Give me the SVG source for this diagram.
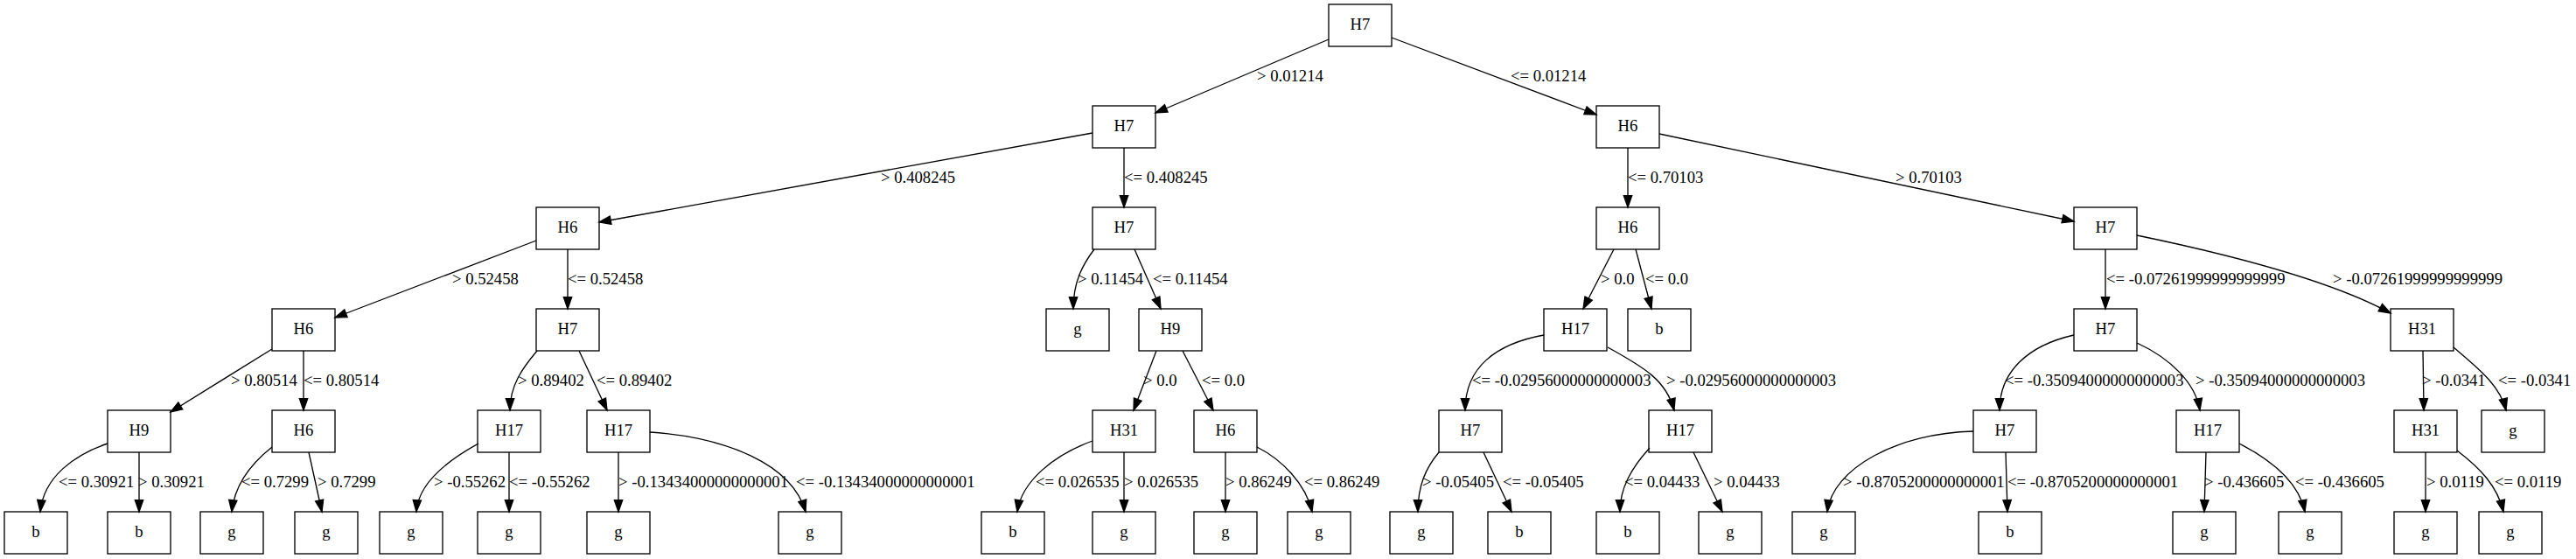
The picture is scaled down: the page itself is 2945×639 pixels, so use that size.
<svg xmlns="http://www.w3.org/2000/svg" width="2945" height="639" viewBox="0 0 2945 639">
<style>
.node rect{fill:none;stroke:#000;stroke-width:1.33}
.node text{font-family:"Liberation Serif","Times New Roman",serif;font-size:18.67px;text-anchor:middle;fill:#000}
.edge path{fill:none;stroke:#000;stroke-width:1.33;marker-end:url(#arr)}
.edge text{font-family:"Liberation Serif","Times New Roman",serif;font-size:18.67px;fill:#000}
</style>
<defs>
<marker id="arr" markerUnits="userSpaceOnUse" markerWidth="16" markerHeight="12" refX="13.33" refY="4.67" orient="auto" overflow="visible">
<path d="M0,0 L13.33,4.67 L0,9.33 z" fill="#000" stroke="#000" stroke-width="1.33"/>
</marker>
</defs>
<rect x="0" y="0" width="2945" height="639" fill="#fff"/>
<g id="edges">
<g class="edge" id="e0_1"><path d="M1519,45 L1321,129"/><text x="1437" y="93">&gt; 0.01214</text></g>
<g class="edge" id="e0_2"><path d="M1591,43 L1825,131"/><text x="1727" y="93">&lt;= 0.01214</text></g>
<g class="edge" id="e1_3"><path d="M1249,152 L685,254"/><text x="1007" y="209">&gt; 0.408245</text></g>
<g class="edge" id="e1_4"><path d="M1285,169 L1285,237"/><text x="1285" y="209">&lt;= 0.408245</text></g>
<g class="edge" id="e2_5"><path d="M1861,169 L1861,237"/><text x="1861" y="209">&lt;= 0.70103</text></g>
<g class="edge" id="e2_6"><path d="M1897,153 L2371,253"/><text x="2167" y="209">&gt; 0.70103</text></g>
<g class="edge" id="e3_7"><path d="M613,275 L383,363"/><text x="517" y="325">&gt; 0.52458</text></g>
<g class="edge" id="e3_8"><path d="M649,285 L649,353"/><text x="649" y="325">&lt;= 0.52458</text></g>
<g class="edge" id="e4_9"><path d="M1251,285 C1238,302 1227,322 1227,353"/><text x="1232" y="325">&gt; 0.11454</text></g>
<g class="edge" id="e4_10"><path d="M1297,285 L1327,353"/><text x="1318" y="325">&lt;= 0.11454</text></g>
<g class="edge" id="e5_11"><path d="M1845,285 L1810,353"/><text x="1830" y="325">&gt; 0.0</text></g>
<g class="edge" id="e5_12"><path d="M1870,285 L1888,353"/><text x="1881" y="325">&lt;= 0.0</text></g>
<g class="edge" id="e6_13"><path d="M2407,285 L2407,353"/><text x="2408" y="325">&lt;= -0.07261999999999999</text></g>
<g class="edge" id="e6_14"><path d="M2443,269 C2530,287 2660,318 2733,358"/><text x="2667" y="325">&gt; -0.07261999999999999</text></g>
<g class="edge" id="e7_15"><path d="M311,399 L195,471"/><text x="264" y="441">&gt; 0.80514</text></g>
<g class="edge" id="e7_16"><path d="M347,401 L347,469"/><text x="347" y="441">&lt;= 0.80514</text></g>
<g class="edge" id="e8_17"><path d="M614,401 C598,420 583,440 583,469"/><text x="592" y="441">&gt; 0.89402</text></g>
<g class="edge" id="e8_18"><path d="M662,401 L694,469"/><text x="682" y="441">&lt;= 0.89402</text></g>
<g class="edge" id="e10_19"><path d="M1322,401 L1296,469"/><text x="1307" y="441">&gt; 0.0</text></g>
<g class="edge" id="e10_20"><path d="M1352,401 L1387,469"/><text x="1374" y="441">&lt;= 0.0</text></g>
<g class="edge" id="e11_21"><path d="M1765,383 C1710,393 1675,420 1675,469"/><text x="1683" y="441">&lt;= -0.02956000000000003</text></g>
<g class="edge" id="e11_22"><path d="M1838,397 C1880,420 1905,435 1914,469"/><text x="1905" y="441">&gt; -0.02956000000000003</text></g>
<g class="edge" id="e13_23"><path d="M2371,383 C2318,395 2286,425 2286,469"/><text x="2292" y="441">&lt;= -0.35094000000000003</text></g>
<g class="edge" id="e13_24"><path d="M2443,392 C2482,410 2510,438 2515,469"/><text x="2510" y="441">&gt; -0.35094000000000003</text></g>
<g class="edge" id="e14_25"><path d="M2770,401 L2771,469"/><text x="2769" y="441">&gt; -0.0341</text></g>
<g class="edge" id="e14_26"><path d="M2805,397 C2832,420 2858,440 2865,469"/><text x="2856" y="441">&lt;= -0.0341</text></g>
<g class="edge" id="e15_27"><path d="M123,507 C85,520 50,545 46,585"/><text x="67" y="557">&lt;= 0.30921</text></g>
<g class="edge" id="e15_28"><path d="M159,517 L159,585"/><text x="158" y="557">&gt; 0.30921</text></g>
<g class="edge" id="e16_29"><path d="M311,511 C287,530 268,555 265,585"/><text x="276" y="557">&lt;= 0.7299</text></g>
<g class="edge" id="e16_30"><path d="M353,517 L368,585"/><text x="363" y="557">&gt; 0.7299</text></g>
<g class="edge" id="e17_31"><path d="M547,507 C505,530 478,555 476,585"/><text x="496" y="557">&gt; -0.55262</text></g>
<g class="edge" id="e17_32"><path d="M582,517 L582,585"/><text x="582" y="557">&lt;= -0.55262</text></g>
<g class="edge" id="e18_33"><path d="M707,517 L707,585"/><text x="707" y="557">&gt; -0.13434000000000001</text></g>
<g class="edge" id="e18_34"><path d="M743,494 C830,500 905,530 921,585"/><text x="910" y="557">&lt;= -0.13434000000000001</text></g>
<g class="edge" id="e19_35"><path d="M1249,504 C1205,520 1168,550 1163,585"/><text x="1184" y="557">&lt;= 0.026535</text></g>
<g class="edge" id="e19_36"><path d="M1285,517 L1285,585"/><text x="1285" y="557">&gt; 0.026535</text></g>
<g class="edge" id="e20_37"><path d="M1401,517 L1401,585"/><text x="1401" y="557">&gt; 0.86249</text></g>
<g class="edge" id="e20_38"><path d="M1437,511 C1465,525 1493,553 1500,585"/><text x="1491" y="557">&lt;= 0.86249</text></g>
<g class="edge" id="e21_39"><path d="M1645,517 C1630,535 1621,555 1621,585"/><text x="1626" y="557">&gt; -0.05405</text></g>
<g class="edge" id="e21_40"><path d="M1696,517 L1728,585"/><text x="1718" y="557">&lt;= -0.05405</text></g>
<g class="edge" id="e22_41"><path d="M1886,512 C1865,535 1852,558 1852,585"/><text x="1857" y="557">&lt;= 0.04433</text></g>
<g class="edge" id="e22_42"><path d="M1936,517 L1969,585"/><text x="1959" y="557">&gt; 0.04433</text></g>
<g class="edge" id="e23_43"><path d="M2256,493 C2170,495 2095,535 2089,585"/><text x="2107" y="557">&gt; -0.8705200000000001</text></g>
<g class="edge" id="e23_44"><path d="M2293,517 L2295,585"/><text x="2295" y="557">&lt;= -0.8705200000000001</text></g>
<g class="edge" id="e24_45"><path d="M2522,517 L2520,585"/><text x="2520" y="557">&gt; -0.436605</text></g>
<g class="edge" id="e24_46"><path d="M2560,507 C2595,525 2628,550 2635,585"/><text x="2624" y="557">&lt;= -0.436605</text></g>
<g class="edge" id="e25_47"><path d="M2773,517 L2773,585"/><text x="2774" y="557">&gt; 0.0119</text></g>
<g class="edge" id="e25_48"><path d="M2809,515 C2835,535 2855,555 2862,585"/><text x="2852" y="557">&lt;= 0.0119</text></g>
</g>
<g id="n0" class="node"><rect x="1519" y="5" width="72" height="48"/><text x="1555" y="34">H7</text></g>
<g id="n1" class="node"><rect x="1249" y="121" width="72" height="48"/><text x="1285" y="150">H7</text></g>
<g id="n2" class="node"><rect x="1825" y="121" width="72" height="48"/><text x="1861" y="150">H6</text></g>
<g id="n3" class="node"><rect x="613" y="237" width="72" height="48"/><text x="649" y="266">H6</text></g>
<g id="n4" class="node"><rect x="1249" y="237" width="72" height="48"/><text x="1285" y="266">H7</text></g>
<g id="n5" class="node"><rect x="1825" y="237" width="72" height="48"/><text x="1861" y="266">H6</text></g>
<g id="n6" class="node"><rect x="2371" y="237" width="72" height="48"/><text x="2407" y="266">H7</text></g>
<g id="n7" class="node"><rect x="311" y="353" width="72" height="48"/><text x="347" y="382">H6</text></g>
<g id="n8" class="node"><rect x="613" y="353" width="72" height="48"/><text x="649" y="382">H7</text></g>
<g id="n9" class="node"><rect x="1196" y="353" width="72" height="48"/><text x="1232" y="382">g</text></g>
<g id="n10" class="node"><rect x="1302" y="353" width="72" height="48"/><text x="1338" y="382">H9</text></g>
<g id="n11" class="node"><rect x="1765" y="353" width="72" height="48"/><text x="1801" y="382">H17</text></g>
<g id="n12" class="node"><rect x="1861" y="353" width="72" height="48"/><text x="1897" y="382">b</text></g>
<g id="n13" class="node"><rect x="2371" y="353" width="72" height="48"/><text x="2407" y="382">H7</text></g>
<g id="n14" class="node"><rect x="2733" y="353" width="72" height="48"/><text x="2769" y="382">H31</text></g>
<g id="n15" class="node"><rect x="123" y="469" width="72" height="48"/><text x="159" y="498">H9</text></g>
<g id="n16" class="node"><rect x="311" y="469" width="72" height="48"/><text x="347" y="498">H6</text></g>
<g id="n17" class="node"><rect x="546" y="469" width="72" height="48"/><text x="582" y="498">H17</text></g>
<g id="n18" class="node"><rect x="671" y="469" width="72" height="48"/><text x="707" y="498">H17</text></g>
<g id="n19" class="node"><rect x="1249" y="469" width="72" height="48"/><text x="1285" y="498">H31</text></g>
<g id="n20" class="node"><rect x="1365" y="469" width="72" height="48"/><text x="1401" y="498">H6</text></g>
<g id="n21" class="node"><rect x="1645" y="469" width="72" height="48"/><text x="1681" y="498">H7</text></g>
<g id="n22" class="node"><rect x="1885" y="469" width="72" height="48"/><text x="1921" y="498">H17</text></g>
<g id="n23" class="node"><rect x="2256" y="469" width="72" height="48"/><text x="2292" y="498">H7</text></g>
<g id="n24" class="node"><rect x="2488" y="469" width="72" height="48"/><text x="2524" y="498">H17</text></g>
<g id="n25" class="node"><rect x="2737" y="469" width="72" height="48"/><text x="2773" y="498">H31</text></g>
<g id="n26" class="node"><rect x="2837" y="469" width="72" height="48"/><text x="2873" y="498">g</text></g>
<g id="n27" class="node"><rect x="5" y="585" width="72" height="48"/><text x="41" y="614">b</text></g>
<g id="n28" class="node"><rect x="123" y="585" width="72" height="48"/><text x="159" y="614">b</text></g>
<g id="n29" class="node"><rect x="229" y="585" width="72" height="48"/><text x="265" y="614">g</text></g>
<g id="n30" class="node"><rect x="337" y="585" width="72" height="48"/><text x="373" y="614">g</text></g>
<g id="n31" class="node"><rect x="434" y="585" width="72" height="48"/><text x="470" y="614">g</text></g>
<g id="n32" class="node"><rect x="546" y="585" width="72" height="48"/><text x="582" y="614">g</text></g>
<g id="n33" class="node"><rect x="671" y="585" width="72" height="48"/><text x="707" y="614">g</text></g>
<g id="n34" class="node"><rect x="890" y="585" width="72" height="48"/><text x="926" y="614">g</text></g>
<g id="n35" class="node"><rect x="1122" y="585" width="72" height="48"/><text x="1158" y="614">b</text></g>
<g id="n36" class="node"><rect x="1249" y="585" width="72" height="48"/><text x="1285" y="614">g</text></g>
<g id="n37" class="node"><rect x="1365" y="585" width="72" height="48"/><text x="1401" y="614">g</text></g>
<g id="n38" class="node"><rect x="1472" y="585" width="72" height="48"/><text x="1508" y="614">g</text></g>
<g id="n39" class="node"><rect x="1589" y="585" width="72" height="48"/><text x="1625" y="614">g</text></g>
<g id="n40" class="node"><rect x="1701" y="585" width="72" height="48"/><text x="1737" y="614">b</text></g>
<g id="n41" class="node"><rect x="1825" y="585" width="72" height="48"/><text x="1861" y="614">b</text></g>
<g id="n42" class="node"><rect x="1942" y="585" width="72" height="48"/><text x="1978" y="614">g</text></g>
<g id="n43" class="node"><rect x="2049" y="585" width="72" height="48"/><text x="2085" y="614">g</text></g>
<g id="n44" class="node"><rect x="2262" y="585" width="72" height="48"/><text x="2298" y="614">b</text></g>
<g id="n45" class="node"><rect x="2484" y="585" width="72" height="48"/><text x="2520" y="614">g</text></g>
<g id="n46" class="node"><rect x="2605" y="585" width="72" height="48"/><text x="2641" y="614">g</text></g>
<g id="n47" class="node"><rect x="2737" y="585" width="72" height="48"/><text x="2773" y="614">g</text></g>
<g id="n48" class="node"><rect x="2834" y="585" width="72" height="48"/><text x="2870" y="614">g</text></g>
</svg>
